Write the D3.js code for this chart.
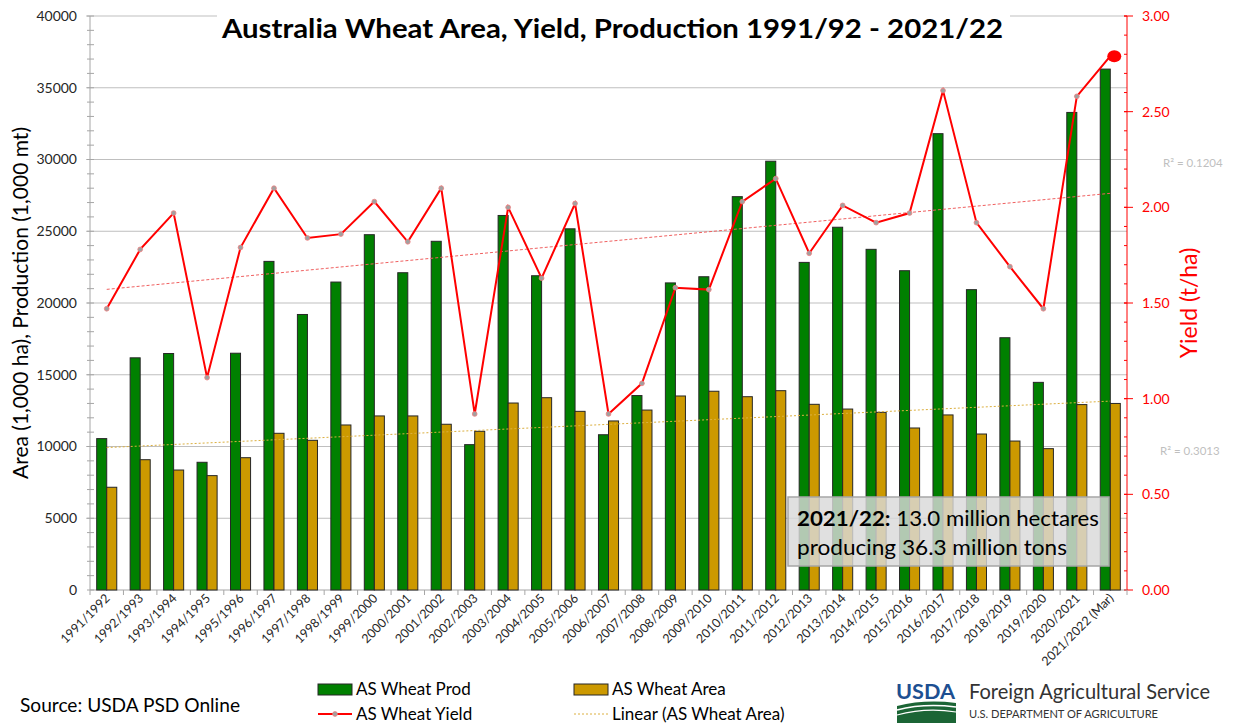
<!DOCTYPE html>
<html>
<head>
<meta charset="utf-8">
<script src="https://cdn.jsdelivr.net/npm/d3@7"></script>
<style>
  body { margin: 0; background: #fff; }
  svg text { font-family: Lato, "Open Sans", sans-serif; }
</style>
</head>
<body>
<div id="chart"></div>
<script>
var seasons = ["1991/1992","1992/1993","1993/1994","1994/1995","1995/1996","1996/1997","1997/1998","1998/1999","1999/2000","2000/2001","2001/2002","2002/2003","2003/2004","2004/2005","2005/2006","2006/2007","2007/2008","2008/2009","2009/2010","2010/2011","2011/2012","2012/2013","2013/2014","2014/2015","2015/2016","2016/2017","2017/2018","2018/2019","2019/2020","2020/2021","2021/2022 (Mar)"];

// 1,000 mt
var production = [10550,16180,16480,8900,16500,22900,19200,21460,24760,22110,24300,10130,26100,21900,25170,10820,13550,21400,21830,27410,29880,22830,25280,23740,22250,31800,20930,17580,14470,33280,36300];
// 1,000 ha
var area = [7160,9080,8360,7970,9220,10920,10430,11500,12130,12130,11550,11060,13030,13400,12450,11780,12540,13520,13850,13470,13890,12940,12610,12380,11290,12200,10870,10380,9850,12920,13000];
// t/ha
var yields = [1.47,1.78,1.97,1.11,1.79,2.10,1.84,1.86,2.03,1.82,2.10,0.92,2.00,1.63,2.02,0.92,1.08,1.58,1.57,2.03,2.15,1.76,2.01,1.92,1.97,2.61,1.92,1.69,1.47,2.58,2.79];

var leftTicks = [0,5000,10000,15000,20000,25000,30000,35000,40000];
var rightTicks = [0,0.5,1,1.5,2,2.5,3];
var r2Yield = "0.1204", r2Area = "0.3013";

var W = 1234, H = 723;
var mLeft = 90, mRight = 1127, mTop = 16, mBottom = 590;

var svg = d3.select("#chart").append("svg")
  .attr("width", W).attr("height", H);

var x = d3.scaleBand()
  .domain(seasons)
  .range([mLeft, mRight])
  .paddingInner(0.4)
  .paddingOuter(0.2);

var yL = d3.scaleLinear().domain([0, 40000]).range([mBottom, mTop]);
var yR = d3.scaleLinear().domain([0, 3]).range([mBottom, mTop]);

var cx = function(d) { return x(d) + x.bandwidth() / 2; };

// gridlines
svg.append("g").selectAll("line")
  .data(leftTicks.filter(function(d) { return d > 0; }))
  .enter().append("line")
  .attr("x1", mLeft - 4).attr("x2", mRight)
  .attr("y1", yL).attr("y2", yL)
  .attr("stroke", "#bfbfbf").attr("stroke-width", 1);

// left axis
var gL = svg.append("g");
gL.append("line")
  .attr("x1", mLeft).attr("x2", mLeft).attr("y1", mTop).attr("y2", mBottom)
  .attr("stroke", "#a6a6a6");
gL.selectAll(".minor")
  .data(d3.range(0, 40001, 1000))
  .enter().append("line")
  .attr("x1", mLeft - 3).attr("x2", mLeft + 4)
  .attr("y1", yL).attr("y2", yL)
  .attr("stroke", "#a6a6a6");
gL.selectAll("text")
  .data(leftTicks)
  .enter().append("text")
  .attr("x", mLeft - 13)
  .attr("y", yL)
  .attr("dy", "0.35em")
  .attr("text-anchor", "end")
  .attr("font-size", 14)
  .attr("fill", "#262626")
  .text(function(d) { return d; });

gL.append("text")
  .attr("transform", "translate(28," + ((mTop + mBottom) / 2) + ") rotate(-90)")
  .attr("text-anchor", "middle")
  .attr("font-size", 21)
  .attr("fill", "#000")
  .text("Area (1,000 ha), Production (1,000 mt)");

// right axis
var gR = svg.append("g");
gR.append("line")
  .attr("x1", mRight).attr("x2", mRight).attr("y1", mTop).attr("y2", mBottom)
  .attr("stroke", "#ff0000");
gR.selectAll(".minor")
  .data(d3.range(0, 31).map(function(i) { return i / 10; }))
  .enter().append("line")
  .attr("x1", mRight - 3).attr("x2", mRight)
  .attr("y1", yR).attr("y2", yR)
  .attr("stroke", "#ff0000");
gR.selectAll(".major")
  .data(rightTicks)
  .enter().append("line")
  .attr("x1", mRight - 3).attr("x2", mRight + 6)
  .attr("y1", yR).attr("y2", yR)
  .attr("stroke", "#ff0000");
gR.selectAll("text")
  .data(rightTicks)
  .enter().append("text")
  .attr("x", mRight + 15)
  .attr("y", yR)
  .attr("dy", "0.35em")
  .attr("font-size", 14)
  .attr("fill", "#ff0000")
  .text(function(d) { return d3.format(".2f")(d); });
gR.append("text")
  .attr("transform", "translate(1197," + ((mTop + mBottom) / 2) + ") rotate(-90)")
  .attr("text-anchor", "middle")
  .attr("font-size", 23)
  .attr("fill", "#ff0000")
  .text("Yield (t/ha)");

// x axis
var gX = svg.append("g");
gX.append("line")
  .attr("x1", mLeft).attr("x2", mRight).attr("y1", mBottom).attr("y2", mBottom)
  .attr("stroke", "#a6a6a6");
gX.selectAll(".tick")
  .data(d3.range(0, seasons.length + 1))
  .enter().append("line")
  .attr("x1", function(i) { return mLeft + i * x.step(); })
  .attr("x2", function(i) { return mLeft + i * x.step(); })
  .attr("y1", mBottom).attr("y2", mBottom + 5)
  .attr("stroke", "#a6a6a6");
gX.selectAll("text")
  .data(seasons)
  .enter().append("text")
  .attr("transform", function(d) { return "translate(" + (cx(d) + 4) + "," + (mBottom + 9) + ") rotate(-45)"; })
  .attr("text-anchor", "end")
  .attr("font-size", 12.5)
  .attr("fill", "#262626")
  .text(function(d) { return d; });

// bars
var xs = d3.scaleBand().domain(["prod", "area"]).range([0, x.bandwidth()]);

svg.append("g").selectAll("rect")
  .data(seasons)
  .enter().append("rect")
  .attr("x", function(d) { return x(d) + xs("prod"); })
  .attr("y", function(d, i) { return yL(production[i]); })
  .attr("width", xs.bandwidth())
  .attr("height", function(d, i) { return mBottom - yL(production[i]); })
  .attr("fill", "#008000")
  .attr("stroke", "#262626").attr("stroke-width", 1);

svg.append("g").selectAll("rect")
  .data(seasons)
  .enter().append("rect")
  .attr("x", function(d) { return x(d) + xs("area"); })
  .attr("y", function(d, i) { return yL(area[i]); })
  .attr("width", xs.bandwidth())
  .attr("height", function(d, i) { return mBottom - yL(area[i]); })
  .attr("fill", "#cc9900")
  .attr("stroke", "#262626").attr("stroke-width", 1);

// linear trend fits
function linfit(vals) {
  var n = vals.length, sx = 0, sy = 0, sxy = 0, sxx = 0;
  vals.forEach(function(v, i) { sx += i; sy += v; sxy += i * v; sxx += i * i; });
  var b = (n * sxy - sx * sy) / (n * sxx - sx * sx);
  var a = (sy - b * sx) / n;
  return function(i) { return a + b * i; };
}
var fitY = linfit(yields), fitA = linfit(area);
var last = seasons.length - 1;

svg.append("line")
  .attr("x1", cx(seasons[0])).attr("x2", cx(seasons[last]))
  .attr("y1", yR(fitY(0))).attr("y2", yR(fitY(last)))
  .attr("stroke", "#f06060").attr("stroke-width", 1)
  .attr("stroke-dasharray", "3,2");

svg.append("line")
  .attr("x1", cx(seasons[0])).attr("x2", cx(seasons[last]))
  .attr("y1", yL(fitA(0))).attr("y2", yL(fitA(last)))
  .attr("stroke", "#dcb040").attr("stroke-width", 1)
  .attr("stroke-dasharray", "2,2");

// yield line
var line = d3.line()
  .x(function(d, i) { return cx(seasons[i]); })
  .y(function(d) { return yR(d); });

svg.append("path")
  .datum(yields)
  .attr("d", line)
  .attr("fill", "none")
  .attr("stroke", "#ff0000")
  .attr("stroke-width", 2);

svg.append("g").selectAll("circle")
  .data(yields.slice(0, last))
  .enter().append("circle")
  .attr("cx", function(d, i) { return cx(seasons[i]); })
  .attr("cy", yR)
  .attr("r", 2.4)
  .attr("fill", "#a0a0a0")
  .attr("stroke", "#f08080").attr("stroke-width", 0.8);

svg.append("ellipse")
  .attr("cx", cx(seasons[last]) + 4)
  .attr("cy", yR(yields[last]))
  .attr("rx", 7).attr("ry", 6)
  .attr("fill", "#ff0000");

// R² labels
svg.append("text")
  .attr("x", 1163).attr("y", 167)
  .attr("font-size", 11.5).attr("fill", "#bfbfbf")
  .text("R\u00b2 = " + r2Yield);
svg.append("text")
  .attr("x", 1160).attr("y", 455)
  .attr("font-size", 11.5).attr("fill", "#bfbfbf")
  .text("R\u00b2 = " + r2Area);

// title
svg.append("rect")
  .attr("x", 217).attr("y", 8).attr("width", 793).attr("height", 36)
  .attr("fill", "#fff");
svg.append("text")
  .attr("x", 222).attr("y", 38)
  .attr("font-size", 27).attr("font-weight", "bold")
  .attr("textLength", 781).attr("lengthAdjust", "spacingAndGlyphs")
  .attr("fill", "#000")
  .text("Australia Wheat Area, Yield, Production 1991/92 - 2021/22");

// annotation box
svg.append("rect")
  .attr("x", 788).attr("y", 497).attr("width", 321).attr("height", 69)
  .attr("fill", "#d9d9d9").attr("fill-opacity", 0.82)
  .attr("stroke", "#a6a6a6").attr("stroke-width", 1.5);
var note1 = svg.append("text")
  .attr("x", 797).attr("y", 526)
  .attr("font-size", 20.5).attr("fill", "#000")
  .attr("textLength", 302).attr("lengthAdjust", "spacingAndGlyphs");
note1.append("tspan").attr("font-weight", "bold").text("2021/22:");
note1.append("tspan").text(" 13.0 million hectares");
svg.append("text")
  .attr("x", 797).attr("y", 555)
  .attr("font-size", 20.5).attr("fill", "#000")
  .attr("textLength", 270).attr("lengthAdjust", "spacingAndGlyphs")
  .text("producing 36.3 million tons");

// legend
var lg = svg.append("g").attr("font-size", 17).attr("fill", "#000");
lg.append("rect").attr("x", 318).attr("y", 684).attr("width", 34).attr("height", 11)
  .attr("fill", "#008000").attr("stroke", "#262626");
lg.append("text").attr("x", 356).attr("y", 695).text("AS Wheat Prod");
lg.append("rect").attr("x", 574).attr("y", 684).attr("width", 34).attr("height", 11)
  .attr("fill", "#cc9900").attr("stroke", "#262626");
lg.append("text").attr("x", 612).attr("y", 695).text("AS Wheat Area");
lg.append("line").attr("x1", 318).attr("x2", 352).attr("y1", 714).attr("y2", 714)
  .attr("stroke", "#ff0000").attr("stroke-width", 2);
lg.append("circle").attr("cx", 335).attr("cy", 714).attr("r", 2.4)
  .attr("fill", "#a0a0a0").attr("stroke", "#f08080").attr("stroke-width", 0.8);
lg.append("text").attr("x", 356).attr("y", 720).text("AS Wheat Yield");
lg.append("line").attr("x1", 574).attr("x2", 608).attr("y1", 714).attr("y2", 714)
  .attr("stroke", "#dcb040").attr("stroke-width", 1).attr("stroke-dasharray", "2,2");
lg.append("text").attr("x", 612).attr("y", 720).text("Linear (AS Wheat Area)");

// source
svg.append("text")
  .attr("x", 20).attr("y", 712)
  .attr("font-size", 19).attr("fill", "#000")
  .attr("textLength", 220).attr("lengthAdjust", "spacingAndGlyphs")
  .text("Source: USDA PSD Online");

// USDA FAS logo
var logo = svg.append("g");
logo.append("text")
  .attr("x", 896).attr("y", 699)
  .attr("font-family", "'Liberation Serif', serif")
  .attr("font-size", 21).attr("font-weight", "bold")
  .attr("textLength", 59).attr("lengthAdjust", "spacingAndGlyphs")
  .attr("fill", "#1d4f91")
  .text("USDA");
logo.append("path")
  .attr("d", "M897,706 Q925,699 956,703 L956,723 L897,723 Z")
  .attr("fill", "#1b6535");
logo.append("path")
  .attr("d", "M897,710 Q924,703 956,707")
  .attr("fill", "none").attr("stroke", "#fff").attr("stroke-width", 1.5);
logo.append("path")
  .attr("d", "M897,715 Q926,707 956,712")
  .attr("fill", "none").attr("stroke", "#fff").attr("stroke-width", 1.2);
logo.append("text")
  .attr("x", 969).attr("y", 699)
  .attr("font-size", 21).attr("fill", "#333")
  .attr("textLength", 241).attr("lengthAdjust", "spacingAndGlyphs")
  .text("Foreign Agricultural Service");
logo.append("text")
  .attr("x", 969).attr("y", 718)
  .attr("font-size", 11).attr("fill", "#333")
  .attr("textLength", 189).attr("lengthAdjust", "spacingAndGlyphs")
  .text("U.S. DEPARTMENT OF AGRICULTURE");
</script>
</body>
</html>
